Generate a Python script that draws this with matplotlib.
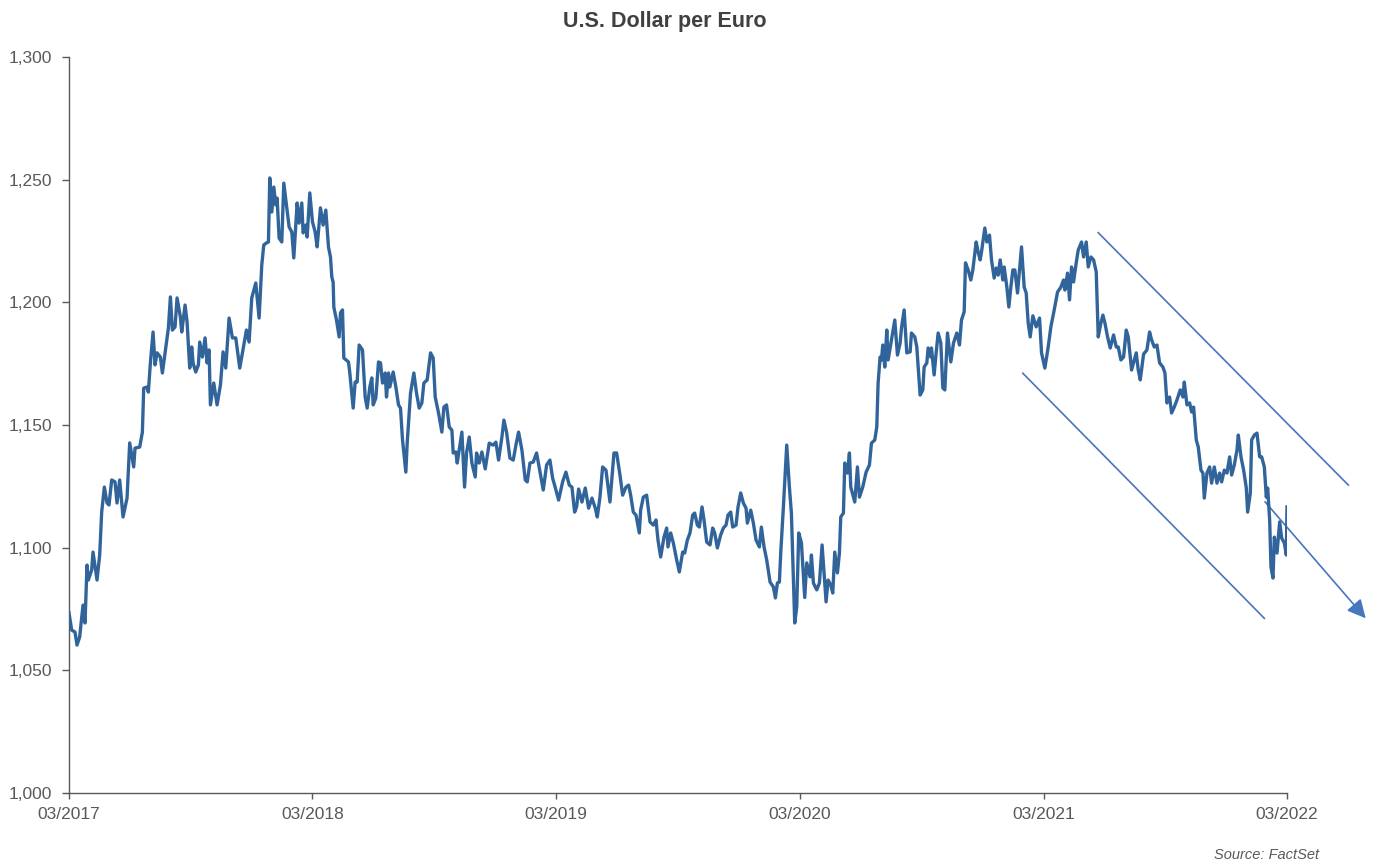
import matplotlib
matplotlib.use('Agg')
from matplotlib import pyplot as plt
from matplotlib.ticker import FuncFormatter
import matplotlib.dates as mdates
import pandas as pd

start_date = pd.Timestamp('2017-03-01')
end_date = pd.Timestamp('2022-03-01')

# days since start_date, EUR/USD close
day_offsets = [
    0, 4, 9, 12, 16, 21, 24, 27, 29, 34, 36, 42, 46, 49, 53, 57, 60, 64, 69, 72,
    76, 81, 87, 91, 97, 99, 106, 110, 112, 117, 119, 122, 126, 129, 132, 137, 140, 145, 149, 152,
    155, 159, 162, 167, 169, 174, 177, 181, 184, 186, 190, 194, 196, 200, 204, 207, 210, 212, 217, 222,
    227, 231, 235, 240, 245, 250, 256, 260, 266, 270, 274, 280, 285, 289, 292, 296, 299, 301, 304, 307,
    310, 312, 315, 319, 322, 326, 330, 334, 337, 340, 342, 345, 349, 351, 355, 357, 361, 365, 369, 372,
    377, 381, 385, 389, 392, 394, 396, 397, 401, 405, 407, 410, 412, 419, 421, 426, 429, 432, 435, 440,
    444, 447, 451, 454, 456, 460, 464, 467, 470, 474, 476, 479, 481, 486, 490, 494, 497, 500, 505, 507,
    512, 517, 521, 525, 529, 532, 537, 542, 546, 549, 554, 559, 562, 566, 570, 574, 576, 580, 582, 589,
    593, 596, 600, 604, 609, 611, 615, 619, 624, 630, 636, 640, 644, 649, 652, 656, 661, 666, 670, 674,
    679, 684, 687, 691, 696, 701, 706, 711, 716, 721, 725, 730, 734, 740, 745, 750, 754, 758, 761, 764,
    769, 774, 779, 784, 789, 792, 796, 800, 805, 811, 817, 821, 826, 830, 835, 839, 842, 846, 850, 855,
    857, 861, 866, 871, 876, 880, 883, 887, 892, 896, 898, 902, 906, 911, 915, 920, 923, 927, 931, 935,
    938, 942, 945, 949, 952, 956, 961, 965, 968, 972, 977, 981, 985, 988, 992, 995, 1000, 1003, 1007, 1011,
    1015, 1017, 1022, 1026, 1030, 1035, 1038, 1042, 1046, 1051, 1056, 1059, 1062, 1065, 1067, 1071, 1076, 1080, 1083, 1088,
    1091, 1094, 1098, 1103, 1106, 1111, 1113, 1116, 1121, 1125, 1129, 1135, 1138, 1142, 1145, 1148, 1152, 1155, 1157, 1161,
    1163, 1167, 1170, 1172, 1178, 1182, 1185, 1190, 1195, 1200, 1203, 1208, 1211, 1213, 1216, 1218, 1220, 1223, 1226, 1228,
    1233, 1238, 1242, 1246, 1248, 1252, 1256, 1261, 1263, 1268, 1271, 1276, 1280, 1282, 1286, 1288, 1292, 1293, 1297, 1300,
    1303, 1307, 1310, 1313, 1317, 1322, 1326, 1331, 1335, 1338, 1342, 1344, 1348, 1352, 1355, 1360, 1363, 1366, 1368, 1373,
    1376, 1380, 1383, 1387, 1390, 1393, 1396, 1400, 1402, 1406, 1409, 1412, 1415, 1418, 1422, 1425, 1428, 1432, 1435, 1438,
    1441, 1445, 1450, 1455, 1458, 1463, 1468, 1472, 1477, 1482, 1487, 1491, 1493, 1497, 1500, 1503, 1506, 1510, 1513, 1518,
    1521, 1525, 1528, 1532, 1536, 1540, 1543, 1547, 1550, 1553, 1557, 1561, 1566, 1570, 1573, 1577, 1581, 1585, 1588, 1593,
    1600, 1603, 1606, 1611, 1616, 1620, 1623, 1627, 1631, 1635, 1640, 1643, 1646, 1650, 1653, 1657, 1661, 1666, 1670, 1672,
    1676, 1680, 1683, 1686, 1690, 1693, 1697, 1700, 1702, 1706, 1710, 1713, 1717, 1721, 1725, 1728, 1732, 1736, 1740, 1743,
    1747, 1751, 1753, 1757, 1761, 1765, 1767, 1771, 1773, 1777, 1781, 1785, 1788, 1792, 1795, 1797, 1800, 1802, 1805, 1807,
    1811, 1815, 1818, 1822, 1825, 1826,
]

usd_per_eur = [
    1.0734, 1.0664, 1.0656, 1.0603, 1.0636, 1.0766, 1.0693, 1.0929, 1.0868, 1.0909, 1.0982, 1.0868, 1.0970, 1.1145, 1.1247, 1.1182, 1.1174, 1.1276, 1.1268, 1.1182,
    1.1276, 1.1125, 1.1202, 1.1427, 1.1329, 1.1406, 1.1410, 1.1471, 1.1650, 1.1655, 1.1634, 1.1753, 1.1879, 1.1745, 1.1794, 1.1777, 1.1712, 1.1814, 1.1895, 1.2022,
    1.1887, 1.1900, 1.2018, 1.1940, 1.1879, 1.1989, 1.1920, 1.1732, 1.1818, 1.1753, 1.1716, 1.1745, 1.1838, 1.1777, 1.1855, 1.1753, 1.1806, 1.1582, 1.1671, 1.1582,
    1.1663, 1.1798, 1.1732, 1.1936, 1.1855, 1.1855, 1.1732, 1.1794, 1.1887, 1.1838, 1.2018, 1.2079, 1.1936, 1.2152, 1.2234, 1.2242, 1.2246, 1.2507, 1.2368, 1.2470,
    1.2397, 1.2425, 1.2262, 1.2246, 1.2486, 1.2397, 1.2307, 1.2287, 1.2181, 1.2315, 1.2405, 1.2323, 1.2405, 1.2283, 1.2315, 1.2266, 1.2446, 1.2328, 1.2287, 1.2226,
    1.2385, 1.2315, 1.2376, 1.2226, 1.2185, 1.2103, 1.2083, 1.1981, 1.1928, 1.1859, 1.1957, 1.1969, 1.1773, 1.1757, 1.1712, 1.1569, 1.1675, 1.1675, 1.1826, 1.1806,
    1.1614, 1.1569, 1.1655, 1.1692, 1.1582, 1.1610, 1.1757, 1.1753, 1.1671, 1.1712, 1.1614, 1.1712, 1.1655, 1.1716, 1.1655, 1.1582, 1.1569, 1.1439, 1.1308, 1.1426,
    1.1630, 1.1712, 1.1630, 1.1569, 1.1590, 1.1671, 1.1684, 1.1794, 1.1773, 1.1614, 1.1549, 1.1471, 1.1573, 1.1582, 1.1492, 1.1479, 1.1386, 1.1390, 1.1345, 1.1471,
    1.1247, 1.1386, 1.1451, 1.1345, 1.1288, 1.1386, 1.1345, 1.1390, 1.1321, 1.1426, 1.1418, 1.1430, 1.1357, 1.1451, 1.1520, 1.1471, 1.1365, 1.1357, 1.1418, 1.1471,
    1.1398, 1.1276, 1.1268, 1.1345, 1.1349, 1.1386, 1.1310, 1.1235, 1.1337, 1.1357, 1.1284, 1.1235, 1.1194, 1.1268, 1.1308, 1.1255, 1.1247, 1.1145, 1.1166, 1.1239,
    1.1186, 1.1243, 1.1161, 1.1202, 1.1161, 1.1125, 1.1206, 1.1329, 1.1316, 1.1186, 1.1386, 1.1386, 1.1296, 1.1214, 1.1247, 1.1255, 1.1214, 1.1145, 1.1133, 1.1060,
    1.1153, 1.1206, 1.1214, 1.1105, 1.1092, 1.1113, 1.1031, 1.0962, 1.1043, 1.1080, 1.1003, 1.1060, 1.1019, 1.0950, 1.0901, 1.0982, 1.0978, 1.1031, 1.1060, 1.1133,
    1.1141, 1.1092, 1.1084, 1.1166, 1.1113, 1.1023, 1.1011, 1.1080, 1.1060, 1.0999, 1.1052, 1.1080, 1.1092, 1.1133, 1.1145, 1.1084, 1.1092, 1.1166, 1.1223, 1.1182,
    1.1161, 1.1100, 1.1153, 1.1100, 1.1031, 1.1003, 1.1084, 1.1003, 1.0950, 1.0860, 1.0840, 1.0795, 1.0856, 1.0860, 1.0978, 1.1166, 1.1418, 1.1247, 1.1141, 1.0693,
    1.0758, 1.1060, 1.1020, 1.0797, 1.0938, 1.0881, 1.0970, 1.0856, 1.0828, 1.0856, 1.1011, 1.0779, 1.0868, 1.0848, 1.0815, 1.0982, 1.0897, 1.0978, 1.1125, 1.1141,
    1.1345, 1.1304, 1.1386, 1.1247, 1.1186, 1.1329, 1.1206, 1.1247, 1.1308, 1.1337, 1.1426, 1.1439, 1.1492, 1.1671, 1.1777, 1.1765, 1.1826, 1.1736, 1.1887, 1.1765,
    1.1847, 1.1928, 1.1785, 1.1834, 1.1895, 1.1969, 1.1794, 1.1798, 1.1875, 1.1859, 1.1818, 1.1622, 1.1643, 1.1736, 1.1753, 1.1814, 1.1777, 1.1814, 1.1704, 1.1794,
    1.1875, 1.1834, 1.1651, 1.1643, 1.1875, 1.1757, 1.1834, 1.1875, 1.1826, 1.1928, 1.1961, 1.2161, 1.2132, 1.2091, 1.2132, 1.2246, 1.2205, 1.2173, 1.2205, 1.2303,
    1.2246, 1.2274, 1.2173, 1.2099, 1.2140, 1.2111, 1.2173, 1.2091, 1.2144, 1.2062, 1.1981, 1.2062, 1.2132, 1.2132, 1.2038, 1.2132, 1.2226, 1.2062, 1.2038, 1.1916,
    1.1859, 1.1945, 1.1900, 1.1936, 1.1794, 1.1732, 1.1818, 1.1900, 1.1969, 1.2042, 1.2062, 1.2091, 1.2050, 1.2119, 1.2010, 1.2144, 1.2083, 1.2161, 1.2213, 1.2246,
    1.2185, 1.2246, 1.2144, 1.2185, 1.2173, 1.2124, 1.1859, 1.1916, 1.1948, 1.1916, 1.1859, 1.1814, 1.1867, 1.1818, 1.1818, 1.1765, 1.1777, 1.1887, 1.1859, 1.1724,
    1.1794, 1.1724, 1.1684, 1.1789, 1.1806, 1.1879, 1.1847, 1.1818, 1.1826, 1.1753, 1.1736, 1.1712, 1.1590, 1.1614, 1.1549, 1.1573, 1.1602, 1.1643, 1.1614, 1.1675,
    1.1582, 1.1590, 1.1553, 1.1573, 1.1439, 1.1410, 1.1316, 1.1304, 1.1202, 1.1304, 1.1329, 1.1263, 1.1329, 1.1263, 1.1304, 1.1268, 1.1316, 1.1304, 1.1370, 1.1296,
    1.1337, 1.1398, 1.1459, 1.1370, 1.1316, 1.1243, 1.1145, 1.1223, 1.1439, 1.1459, 1.1467, 1.1370, 1.1370, 1.1329, 1.1206, 1.1243, 1.1113, 1.0921, 1.0876, 1.1043,
    1.0978, 1.1105, 1.1039, 1.1019, 1.0970, 1.1166,
]

# trend channel drawn over the 2021-22 decline: (day offset, rate) end points
channel_upper = [(1543, 1.2284), (1918, 1.1255)]
channel_lower = [(1430, 1.1711), (1792, 1.0712)]
trend_arrow = [(1793, 1.1187), (1944, 1.0712)]

y_ticks = [1.000, 1.050, 1.100, 1.150, 1.200, 1.250, 1.300]

line_color = '#31649a'
channel_color = '#4676be'
axis_color = '#595959'
text_color = '#595959'

plt.rcParams['font.family'] = ['Liberation Sans', 'DejaVu Sans']


def to_dates(offsets):
    return start_date + pd.to_timedelta(offsets, unit='D')


def comma_decimal(v, pos):
    return '{:.3f}'.format(v).replace('.', ',')


dates = to_dates(day_offsets)

fig = plt.figure(figsize=(13.75, 8.61), dpi=100)
ax = fig.add_axes([69 / 1375, 1 - 793 / 861, (1287 - 69) / 1375, (793 - 57) / 861])

ax.plot(dates, usd_per_eur, color=line_color, lw=2.4, solid_joinstyle='round', zorder=3)

for seg in (channel_upper, channel_lower):
    xs = to_dates([p[0] for p in seg])
    ys = [p[1] for p in seg]
    ax.plot(xs, ys, color=channel_color, lw=1.2, clip_on=False, zorder=2)

arrow_start = to_dates([trend_arrow[0][0]])[0]
arrow_end = to_dates([trend_arrow[1][0]])[0]
ax.annotate('', xy=(mdates.date2num(arrow_end), trend_arrow[1][1]),
            xytext=(mdates.date2num(arrow_start), trend_arrow[0][1]),
            arrowprops=dict(arrowstyle='-|>', color=channel_color, lw=1.2,
                            mutation_scale=28, shrinkA=0, shrinkB=0),
            annotation_clip=False, zorder=2)

ax.set_xlim(start_date, end_date)
ax.set_ylim(1.0, 1.3)
ax.set_yticks(y_ticks)
ax.yaxis.set_major_formatter(FuncFormatter(comma_decimal))
ax.set_xticks(pd.date_range(start_date, end_date, freq='12MS'))
ax.xaxis.set_major_formatter(mdates.DateFormatter('%m/%Y'))

for side in ('top', 'right'):
    ax.spines[side].set_visible(False)
for side in ('left', 'bottom'):
    ax.spines[side].set_color(axis_color)
    ax.spines[side].set_linewidth(1.0)

ax.tick_params(axis='y', direction='out', length=5, width=1, color=axis_color,
               labelcolor=text_color, labelsize=12.5, pad=7)
ax.tick_params(axis='x', direction='out', length=4, width=1, color=axis_color,
               labelcolor=text_color, labelsize=12.5, pad=6)

fig.text(665 / 1375, 1 - 21 / 861, 'U.S. Dollar per Euro', ha='center', va='center',
         fontsize=15.5, fontweight='bold', color='#404040')
fig.text(1319 / 1375, 1 - 855 / 861, 'Source: FactSet', ha='right', va='center',
         fontsize=10.5, style='italic', color=text_color)

fig.savefig('out.png', dpi=100)
